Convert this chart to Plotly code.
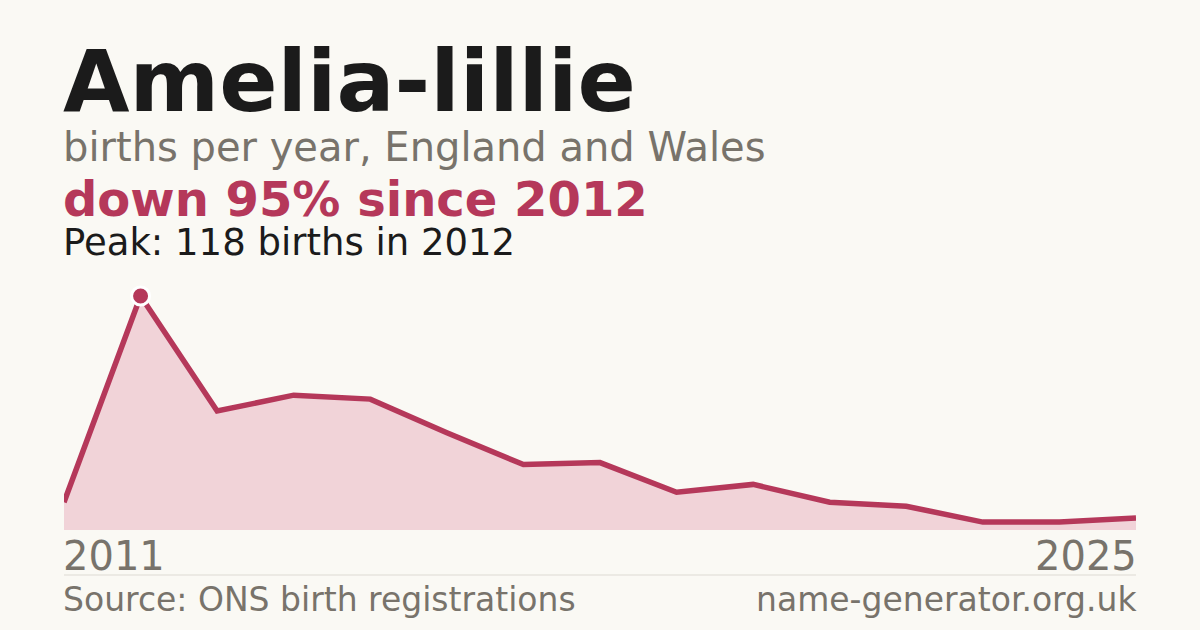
import plotly.graph_objects as go

# births per year for the name, England and Wales
years = [2011, 2012, 2013, 2014, 2015, 2016, 2017, 2018,
         2019, 2020, 2021, 2022, 2023, 2024, 2025]
births = [14, 118, 60, 68, 66, 49, 33, 34, 19, 23, 14, 12, 4, 4, 6]

name = 'Amelia-lillie'
subtitle = 'births per year, England and Wales'
change_text = 'down 95% since 2012'
peak_text = 'Peak: 118 births in 2012'
source_text = 'Source: ONS birth registrations'
site_text = 'name-generator.org.uk'

peak_i = births.index(max(births))

BG = '#faf9f4'
RED = '#b5385a'
GREY = '#78736b'
INK = '#1b1b1b'
FONT = 'DejaVu Sans'

# plot area: x 64..1136, y 280..530 in pixels
T, B = 280, 100
H = 630 - T - B


def py(pix):
    # pixel row -> paper y
    return (630 - B - pix) / H


fig = go.Figure()

fig.add_trace(go.Scatter(
    x=years, y=births,
    mode='lines',
    line=dict(color=RED, width=5.5),
    fill='tozeroy',
    fillcolor='rgba(228, 160, 176, 0.42)',
    hoverinfo='skip'
))

fig.add_trace(go.Scatter(
    x=[years[peak_i]], y=[births[peak_i]],
    mode='markers',
    marker=dict(color=RED, size=18, line=dict(color='white', width=3)),
    hoverinfo='skip'
))

# text, centre row (px), font size, colour, bold, anchor, x
texts = [
    (name, 81, 86, INK, True, 'left', 0),
    (subtitle, 147, 40, GREY, False, 'left', 0),
    (change_text, 199, 48, RED, True, 'left', 0),
    (peak_text, 242, 37, INK, False, 'left', 0),
    (source_text, 599, 33, GREY, False, 'left', 0),
    (site_text, 599, 33, GREY, False, 'right', 1),
    (str(years[0]), 556, 40, GREY, False, 'left', 0),
    (str(years[-1]), 556, 40, GREY, False, 'right', 1),
]

annotations = []
for txt, row, size, col, bold, anchor, xp in texts:
    annotations.append(dict(
        text='<b>%s</b>' % txt if bold else txt,
        xref='paper', yref='paper',
        x=xp, y=py(row),
        xanchor=anchor, yanchor='middle',
        xshift=-3 if anchor == 'left' else 3,
        showarrow=False,
        font=dict(family=FONT, size=size, color=col)
    ))

fig.update_layout(
    width=1200, height=630,
    paper_bgcolor=BG, plot_bgcolor=BG,
    margin=dict(l=64, r=64, t=T, b=B),
    showlegend=False,
    xaxis=dict(range=[years[0], years[-1]], visible=False, fixedrange=True),
    yaxis=dict(range=[0, max(births) * 250 / 234], visible=False, fixedrange=True),
    annotations=annotations,
    shapes=[dict(type='line', xref='paper', yref='paper',
                 x0=0, x1=1, y0=py(575), y1=py(575),
                 line=dict(color='#dddad3', width=1))]
)

# page has a default 8px body margin; drop it so the figure fills the window
fig.write_html('out.html', config={'displayModeBar': False},
               post_script="document.body.style.margin='0';"
                           "document.body.style.background='%s';" % BG)
